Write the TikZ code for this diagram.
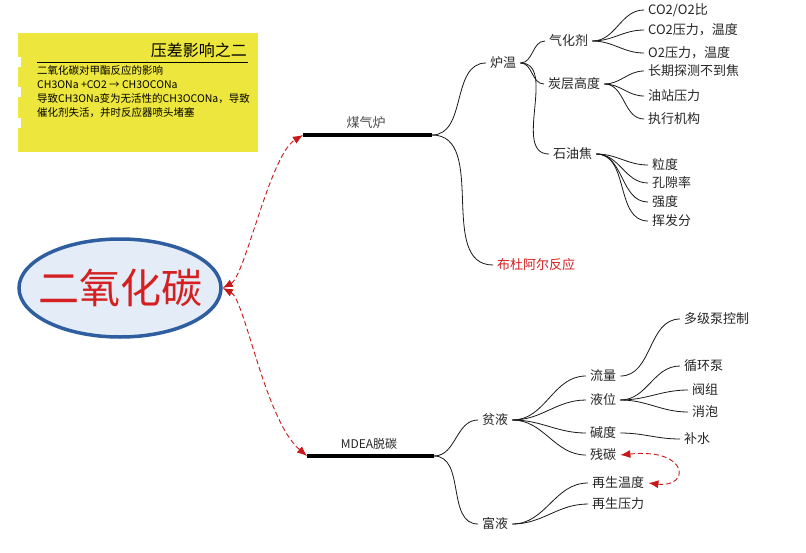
\documentclass[tikz,border=0pt]{standalone}
\usepackage{fontspec}
\setmainfont{Noto Sans CJK SC}
\usetikzlibrary{shapes.geometric,arrows.meta}
\definecolor{yboxc}{HTML}{EDE63C}
\definecolor{ellfill}{HTML}{E4ECF7}
\definecolor{elldraw}{HTML}{2E5EA0}
\definecolor{redtxt}{HTML}{D42020}
\definecolor{reddash}{HTML}{C81818}
\begin{document}
\begin{tikzpicture}[x=1pt,y=-1pt,
  lbl/.style={anchor=west,inner xsep=4pt,inner ysep=1pt,font=\fontsize{13}{13}\selectfont,text=black!85},
  link/.style={draw=black!90,line width=0.8pt},
  fan/.style={link,out=0,in=180},
  rdash/.style={draw=reddash,line width=0.9pt,dash pattern=on 5pt off 3pt,
    {Latex[length=10pt,width=8pt]}-{Latex[length=10pt,width=8pt]}},
  barline/.style={line width=4.5pt,black}]
\useasboundingbox (0,0) rectangle (806,552);
\fill[white] (0,0) rectangle (806,552);

% note box
\fill[yboxc] (18,33) rectangle (258,152);
\foreach \yy in {57,87,118} \fill[white] (12,\yy) rectangle (21,\yy+10);
\node[anchor=east,inner sep=0,font=\fontsize{16}{16}\selectfont] (title) at (247,50) {压差影响之二};
\draw[line width=1pt] (37,62) -- (248,62);
\node[anchor=north west,align=left,inner sep=0,font=\fontsize{10.5}{14}\selectfont] (note) at (37,65)
  {二氧化碳对甲酯反应的影响\\CH3ONa +CO2 → CH3OCONa\\导致CH3ONa变为无活性的CH3OCONa，导致\\催化剂失活，并时反应器喷头堵塞};

% central topic
\node[ellipse,draw=elldraw,fill=ellfill,line width=3.5pt,inner sep=0pt,minimum width=202pt,minimum height=98pt,
  text=redtxt,font=\fontsize{41}{41}\selectfont] (ell) at (120,288) {\makebox[100pt][c]{二氧化碳}};

% branch bars
\coordinate (b1s) at (303,135); \coordinate (b1e) at (432,135);
\coordinate (b2s) at (307,456); \coordinate (b2e) at (434,456);
\draw[barline] (b1s) -- (b1e);
\draw[barline] (b2s) -- (b2e);
\node[font=\fontsize{13}{13}\selectfont,text=black!70] (mqlu) at (366,123) {煤气炉};
\node[font=\fontsize{12}{12}\selectfont,text=black!85] (mdea) at (369,444) {MDEA脱碳};

\draw[rdash] (ell.east) .. controls (245,276) and (270,155) .. (b1s);
\draw[rdash] (ell.east) .. controls (245,300) and (265,420) .. (b2s);

% upper tree
\node[lbl] (luwen) at (486,63) {炉温};
\node[lbl,text=redtxt] (budu) at (493,265) {布杜阿尔反应};
\node[lbl] (qihua) at (545,41) {气化剂};
\node[lbl] (tanceng) at (544,84) {炭层高度};
\node[lbl] (shiyou) at (549,154) {石油焦};
\node[lbl] (co2o2) at (644,10) {CO2/O2比};
\node[lbl] (co2p) at (644,30) {CO2压力，温度};
\node[lbl] (o2p) at (644,53) {O2压力，温度};
\node[lbl] (changqi) at (644,71) {长期探测不到焦};
\node[lbl] (youzhan) at (644,96) {油站压力};
\node[lbl] (zhixing) at (644,119) {执行机构};
\node[lbl] (lidu) at (648,165) {粒度};
\node[lbl] (kongxi) at (648,183) {孔隙率};
\node[lbl] (qiangdu) at (648,202) {强度};
\node[lbl] (huifa) at (648,221) {挥发分};

\draw (b1e) edge[fan] (luwen.west) edge[fan] (budu.west);
\draw (luwen.east) edge[fan] (qihua.west) edge[fan] (tanceng.west) edge[fan] (shiyou.west);
\draw (qihua.east) edge[fan] (co2o2.west) edge[fan] (co2p.west) edge[fan] (o2p.west);
\draw (tanceng.east) edge[fan] (changqi.west) edge[fan] (youzhan.west) edge[fan] (zhixing.west);
\draw (shiyou.east) edge[fan] (lidu.west) edge[fan] (kongxi.west) edge[fan] (qiangdu.west) edge[fan] (huifa.west);

% lower tree
\node[lbl] (pinye) at (478,420) {贫液};
\node[lbl] (fuye) at (478,524) {富液};
\node[lbl] (liuliang) at (586,376) {流量};
\node[lbl] (yewei) at (586,400) {液位};
\node[lbl] (jiandu) at (586,433) {碱度};
\node[lbl] (cantan) at (586,455) {残碳};
\node[lbl] (duoji) at (680,319) {多级泵控制};
\node[lbl] (xunhuan) at (680,366) {循环泵};
\node[lbl] (famen) at (688,390) {阀组};
\node[lbl] (xiaopao) at (688,412) {消泡};
\node[lbl] (bushui) at (680,439) {补水};
\node[lbl] (zstemp) at (588,483) {再生温度};
\node[lbl] (zspres) at (588,504) {再生压力};

\draw (b2e) edge[fan] (pinye.west) edge[fan] (fuye.west);
\draw (pinye.east) edge[fan] (liuliang.west) edge[fan] (yewei.west) edge[fan] (jiandu.west) edge[fan] (cantan.west);
\draw (liuliang.east) edge[fan] (duoji.west);
\draw (yewei.east) edge[fan] (xunhuan.west) edge[fan] (famen.west) edge[fan] (xiaopao.west);
\draw (jiandu.east) edge[fan] (bushui.west);
\draw (fuye.east) edge[fan] (zstemp.west) edge[fan] (zspres.west);

\draw[rdash] (cantan.east) .. controls (690,448) and (690,488) .. (zstemp.east);
\end{tikzpicture}
\end{document}
